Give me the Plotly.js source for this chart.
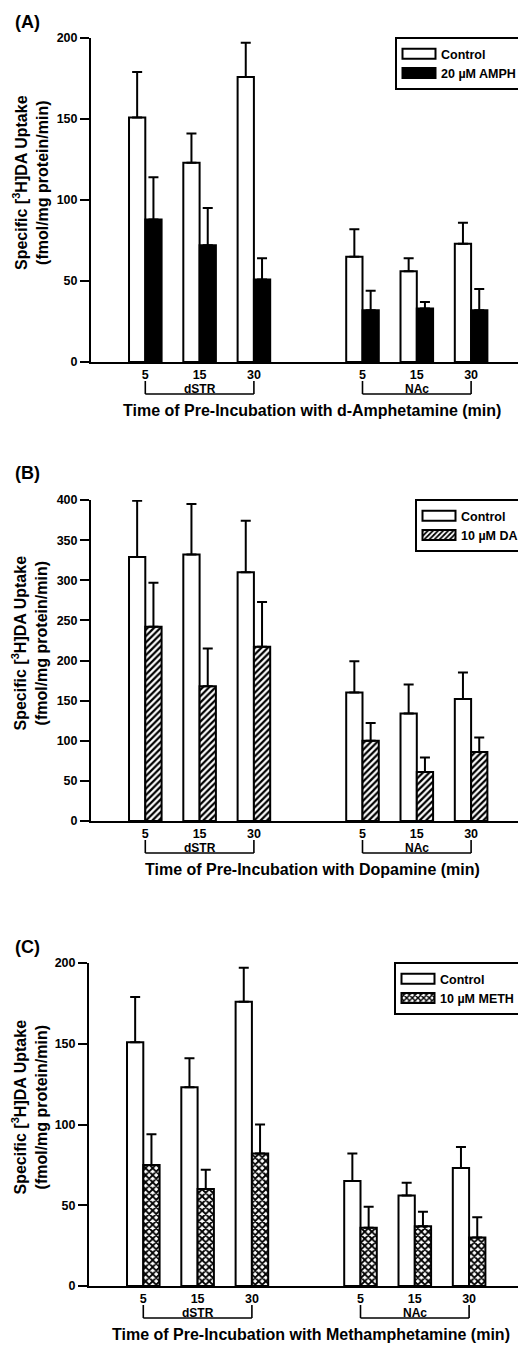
<!DOCTYPE html>
<html><head><meta charset="utf-8">
<script src="https://cdn.plot.ly/plotly-3.0.1.min.js"></script>
<style>
html,body{margin:0;padding:0;background:#fff;overflow:hidden;width:518px;height:1345px;position:relative}
.panel{position:absolute;left:0;width:545px;height:430px}
</style>
</head><body>
<div id="pA" class="panel" style="top:0px"></div>
<div id="pB" class="panel" style="top:462.3px"></div>
<div id="pC" class="panel" style="top:924.7px"></div>
<script>
// ---- data ----
const regions = ["dSTR", "NAc"];
const times = ["5", "15", "30"];

// Panel A: d-Amphetamine
const ctrlA = [151, 123, 176, 65, 56, 73];
const ctrlAErr = [28, 18, 21, 17, 8, 13];
const amph = [88, 72, 51, 32, 33, 32];
const amphErr = [26, 23, 13, 12, 4, 13];

// Panel B: Dopamine
const ctrlB = [329, 332, 310, 160, 134, 152];
const ctrlBErr = [70, 63, 64, 39, 36, 33];
const da = [242, 168, 217, 100, 61, 86];
const daErr = [55, 47, 56, 22, 18, 18];

// Panel C: Methamphetamine
const ctrlC = [151, 123, 176, 65, 56, 73];
const ctrlCErr = [28, 18, 21, 17, 8, 13];
const meth = [75, 60, 82, 36, 37, 30];
const methErr = [19, 12, 18, 13, 9, 12.5];

// ---- helpers ----
const FONT = "Liberation Sans, Arial, Helvetica, sans-serif";
const xs = [], tickText = [];
regions.forEach((r, ri) => times.forEach((t, ti) => { xs.push(ri * 4 + ti + 1); tickText.push(t); }));
const PX_PER_UNIT = 54.3;

function barTrace(name, y, err, fill, pattern) {
  const m = {color: fill, line: {color: "black", width: 2}};
  if (pattern) m.pattern = pattern;
  return {
    type: "bar", name: name, x: xs, y: y, marker: m,
    error_y: {type: "data", symmetric: false, array: err, arrayminus: y.map(() => 0),
              color: "black", thickness: 2, width: 5},
    hoverinfo: "skip"
  };
}

function makePanel(id, cfg) {
  const W = 545 - cfg.left;
  const shapes = [], annotations = [];
  regions.forEach((r, ri) => {
    const xa = ri * 4 + 1, xb = ri * 4 + times.length;
    const base = {type: "line", xref: "x", yref: "paper", ysizemode: "pixel", yanchor: 0,
                  line: {color: "black", width: 1.6}};
    shapes.push(Object.assign({}, base, {x0: xa, x1: xa, y0: -19, y1: -32}));
    shapes.push(Object.assign({}, base, {x0: xb, x1: xb, y0: -19, y1: -32}));
    shapes.push(Object.assign({}, base, {x0: xa, x1: xb, y0: -32, y1: -32}));
    annotations.push({text: r, xref: "x", yref: "paper", x: (xa + xb) / 2, y: 0, yshift: -27,
      showarrow: false, xanchor: "center", yanchor: "middle",
      font: {family: FONT, size: 12, color: "black", weight: "bold"}});
  });
  annotations.push({text: cfg.xtitle, xref: "paper", yref: "paper", x: 0.5, y: 0,
    xshift: cfg.xtitleCenter - (cfg.left + W / 2), yshift: -48, showarrow: false,
    xanchor: "center", yanchor: "middle",
    font: {family: FONT, size: 16, color: "black", weight: "bold"}});
  annotations.push({text: "Specific [<sup>3</sup>H]DA Uptake<br>(fmol/mg protein/min)",
    xref: "paper", yref: "paper", x: 0, y: 0.5, xshift: 30 - cfg.left, yshift: 17,
    textangle: -90, showarrow: false, xanchor: "center", yanchor: "middle",
    font: {family: FONT, size: 16, color: "black", weight: "bold"}});
  annotations.push({text: cfg.label, xref: "paper", yref: "paper", x: 0, y: 1,
    xshift: 12.5 - cfg.left, yshift: cfg.labelShift, showarrow: false,
    xanchor: "left", yanchor: "middle",
    font: {family: FONT, size: 18, color: "black", weight: "bold"}});

  const layout = {
    width: 545, height: 430,
    margin: {l: cfg.left, r: 0, t: 38, b: 430 - 38 - cfg.plotH, pad: 0},
    paper_bgcolor: "white", plot_bgcolor: "white",
    barmode: "group", bargap: 0.4, bargroupgap: 0,
    showlegend: true,
    legend: {x: cfg.legX, y: 1.003, xanchor: "left", yanchor: "top",
      bgcolor: "white", bordercolor: "black", borderwidth: 2, itemwidth: 34,
      font: {family: FONT, size: 12.5, color: "black", weight: "bold"},
      traceorder: "normal"},
    xaxis: {range: [0, W / PX_PER_UNIT], tickmode: "array", tickvals: xs, ticktext: tickText,
      showline: true, linecolor: "black", linewidth: 2, ticks: "", showgrid: false,
      zeroline: false, fixedrange: true,
      tickfont: {family: FONT, size: 12.5, color: "black", weight: "bold"}},
    yaxis: {range: [0, cfg.ymax], dtick: cfg.dtick, tick0: 0, showline: true, linecolor: "black",
      linewidth: 2, ticks: "outside", ticklen: 9, tickwidth: 2, tickcolor: "black",
      showgrid: false, zeroline: false, fixedrange: true,
      tickfont: {family: FONT, size: 12.5, color: "black", weight: "bold"}},
    shapes: shapes, annotations: annotations
  };
  return Plotly.newPlot(id, cfg.traces, layout, {displayModeBar: false, staticPlot: true}).then(gd => {
    gd.querySelectorAll(".legend .legendpoints path").forEach(p => p.setAttribute("d", "M16.5,5H-16.5V-5H16.5Z"));
  });
}

makePanel("pA", {left: 91, plotH: 324, ymax: 200, dtick: 50, legX: (395 - 91) / 454,
  label: "(A)", labelShift: 16, xtitleCenter: 311.5,
  xtitle: "Time of Pre-Incubation with d-Amphetamine (min)",
  traces: [barTrace("Control", ctrlA, ctrlAErr, "white"),
           barTrace("20 µM AMPH", amph, amphErr, "black")]});

makePanel("pB", {left: 91, plotH: 321.5, ymax: 400, dtick: 50, legX: (415 - 91) / 454,
  label: "(B)", labelShift: 27, xtitleCenter: 312,
  xtitle: "Time of Pre-Incubation with Dopamine (min)",
  traces: [barTrace("Control", ctrlB, ctrlBErr, "white"),
           barTrace("10 µM DA", da, daErr, "white",
             {shape: "/", fgcolor: "black", bgcolor: "white", size: 4.5, solidity: 0.5, fillmode: "replace"})]});

makePanel("pC", {left: 89, plotH: 323.5, ymax: 200, dtick: 50, legX: (394 - 89) / 456,
  label: "(C)", labelShift: 16, xtitleCenter: 311,
  xtitle: "Time of Pre-Incubation with Methamphetamine (min)",
  traces: [barTrace("Control", ctrlC, ctrlCErr, "white"),
           barTrace("10 µM METH", meth, methErr, "white",
             {shape: "x", fgcolor: "black", bgcolor: "white", size: 5, solidity: 0.6, fillmode: "replace"})]});
</script>
</body></html>
